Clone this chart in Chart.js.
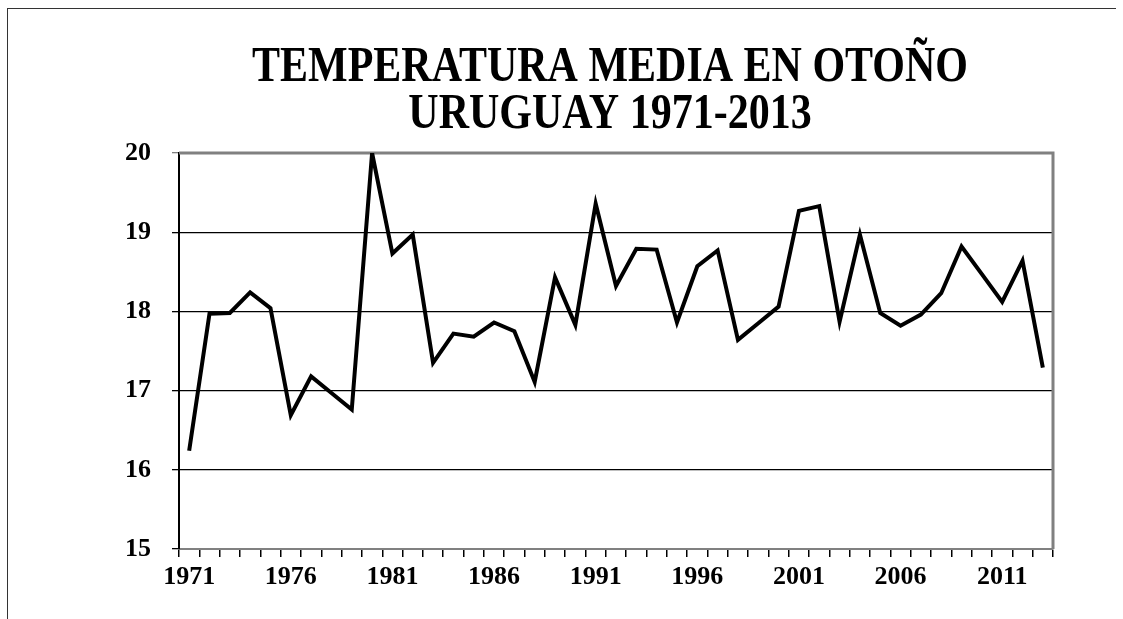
<!DOCTYPE html>
<html>
<head>
<meta charset="utf-8">
<script src="https://cdn.jsdelivr.net/npm/chart.js@4.4.1/dist/chart.umd.min.js"></script>
<style>
  html, body { margin: 0; padding: 0; background: #fff; }
  #wrap { position: relative; width: 1123px; height: 619px; }
  #frame { position: absolute; left: 7px; top: 8px; width: 1108px; bottom: -10px;
           border-left: 1px solid #333; border-top: 1px solid #333; pointer-events: none; }
</style>
</head>
<body>
<div id="wrap">
  <canvas id="tempChart" width="1123" height="619"></canvas>
  <div id="frame"></div>
</div>
<script>
// === Temperatura media en otoño, Uruguay 1971-2013 ===
const years = [];
for (let y = 1971; y <= 2013; y++) years.push(String(y));

const tempMedia = [
  16.24, 17.97, 17.98, 18.24, 18.04, 16.69, 17.18, 16.97, 16.76, 20.00,
  18.73, 18.97, 17.35, 17.72, 17.68, 17.86, 17.75, 17.11, 18.43, 17.83,
  19.36, 18.32, 18.79, 18.78, 17.86, 18.57, 18.77, 17.64, 17.85, 18.06,
  19.27, 19.33, 17.87, 18.97, 17.98, 17.82, 17.96, 18.23, 18.82, 18.47,
  18.12, 18.64, 17.29
];

const titleLines = ['TEMPERATURA MEDIA EN OTOÑO', 'URUGUAY 1971-2013'];
const yTicks = [15, 16, 17, 18, 19, 20];

// titulo algo comprimido a lo ancho, como en el original
const titlePlugin = {
  id: 'squishTitle',
  afterDraw(chart) {
    const ctx = chart.ctx;
    ctx.save();
    ctx.fillStyle = '#000';
    ctx.font = 'bold 50px "Liberation Serif", "Times New Roman", serif';
    ctx.textAlign = 'center';
    ctx.textBaseline = 'alphabetic';
    const baselines = [81, 128];
    titleLines.forEach((t, i) => {
      ctx.save();
      ctx.translate(610, baselines[i]);
      ctx.scale(0.84, 1);
      ctx.fillText(t, 0, 0);
      ctx.restore();
    });
    ctx.restore();
  }
};

// borde gris superior y derecho del area de trazado
const plotBorder = {
  id: 'plotBorder',
  beforeDatasetsDraw(chart) {
    const { ctx, chartArea: a } = chart;
    ctx.save();
    ctx.strokeStyle = '#808080';
    ctx.lineWidth = 3;
    ctx.beginPath();
    ctx.moveTo(a.left, a.top);
    ctx.lineTo(a.right, a.top);
    ctx.lineTo(a.right, a.bottom);
    ctx.stroke();
    ctx.restore();
  }
};

const serif = '"Liberation Serif", "Times New Roman", serif';

new Chart(document.getElementById('tempChart').getContext('2d'), {
  type: 'line',
  data: {
    labels: years,
    datasets: [{
      data: tempMedia,
      borderColor: '#000',
      borderWidth: 4,
      pointRadius: 0,
      tension: 0,
      fill: false
    }]
  },
  options: {
    responsive: false,
    animation: false,
    layout: { padding: { top: 153, right: 70, left: 0, bottom: 0 } },
    plugins: {
      legend: { display: false },
      title: { display: false },
      tooltip: { enabled: false }
    },
    scales: {
      x: {
        offset: true,
        afterFit(scale) { scale.height = 70; },
        grid: { offset: true, drawOnChartArea: false, color: '#000', lineWidth: 1.5, tickLength: 8 },
        border: { color: '#808080', width: 2 },
        ticks: {
          autoSkip: false,
          maxRotation: 0,
          padding: 5,
          color: '#000',
          font: { family: serif, size: 26, weight: 'bold' },
          callback: (v, i) => (i % 5 === 0 ? years[i] : '')
        }
      },
      y: {
        min: 15,
        max: 20,
        afterFit(scale) { scale.width = 179; },
        afterBuildTicks(scale) { scale.ticks = yTicks.map(v => ({ value: v })); },
        grid: {
          color: ctx => (ctx.tick && ctx.tick.value === 20 ? '#808080' : '#000'),
          lineWidth: 1.3,
          tickLength: 7
        },
        border: { color: '#000', width: 2 },
        ticks: {
          padding: 21,
          color: '#000',
          font: { family: serif, size: 26, weight: 'bold' }
        }
      }
    }
  },
  plugins: [plotBorder, titlePlugin]
});
</script>
</body>
</html>
